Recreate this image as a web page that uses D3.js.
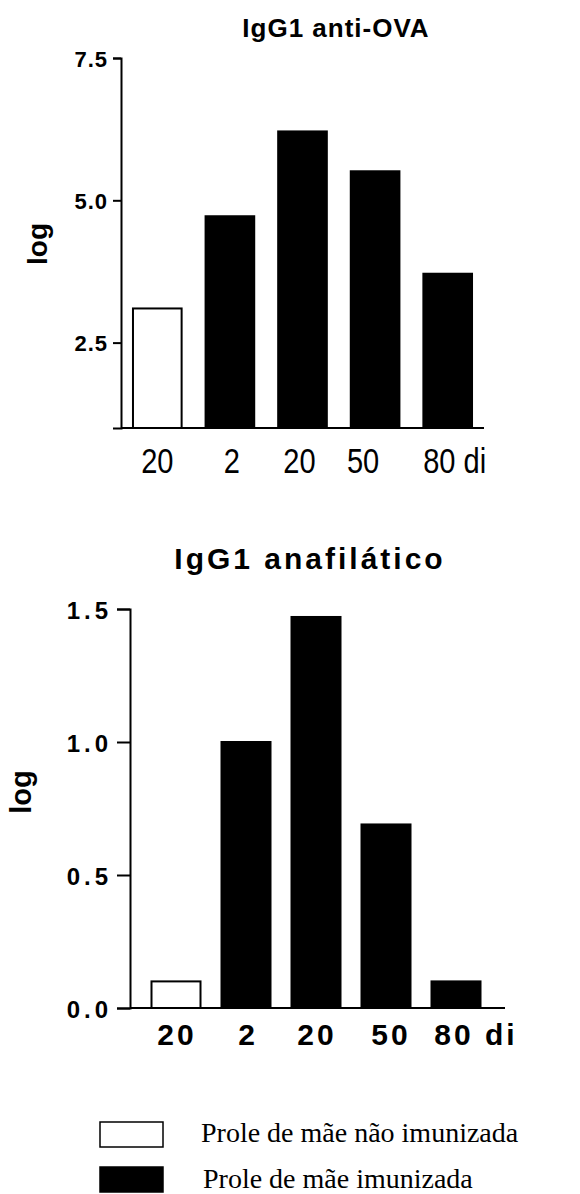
<!DOCTYPE html>
<meta charset="utf-8">
<script src="https://d3js.org/d3.v7.min.js"></script>
<style>
  body { margin: 0; background: #fff; }
</style>
<div id="chart"></div>
<script>
  // data
  var dayLabels = ["20", "2", "20", "50", "80 di"];
  var groups = ["nao", "imun", "imun", "imun", "imun"];
  var antiOvaValues = [3.10, 4.72, 6.21, 5.51, 3.71];
  var anafilaticoValues = [0.10, 1.00, 1.47, 0.69, 0.10];
  var antiOvaTicks = [2.5, 5.0, 7.5];
  var anafilaticoTicks = [0.0, 0.5, 1.0, 1.5];
  var legendLabels = ["Prole de mãe não imunizada", "Prole de mãe imunizada"];
  var legendGroups = ["nao", "imun"];

  var sans = "'Liberation Sans', Arial, sans-serif";
  var serif = "'Liberation Serif', 'Times New Roman', serif";

  var svg = d3.select("#chart")
    .append("svg")
    .attr("width", 580)
    .attr("height", 1194);

  function fillFor(g) { return g === "nao" ? "#fff" : "#000"; }

  // one bar panel
  function drawPanel(cfg) {
    var x = d3.scaleBand()
      .domain(d3.range(cfg.values.length))
      .range(cfg.bandRange)
      .paddingInner(cfg.padInner)
      .paddingOuter(cfg.padOuter);

    var y = d3.scaleLinear()
      .domain(cfg.domain)
      .range([cfg.bottom, cfg.top]);

    var g = svg.append("g");

    // title
    g.append("text")
      .attr("x", cfg.titleX)
      .attr("y", cfg.titleY)
      .attr("text-anchor", "middle")
      .attr("font-family", sans)
      .attr("font-weight", "bold")
      .attr("font-size", cfg.titleSize)
      .attr("letter-spacing", cfg.titleSpacing)
      .text(cfg.title);

    // bars
    g.selectAll("rect.bar")
      .data(cfg.values)
      .enter()
      .append("rect")
      .attr("class", "bar")
      .attr("x", function (d, i) { return x(i); })
      .attr("y", function (d) { return y(d); })
      .attr("width", x.bandwidth())
      .attr("height", function (d) { return y(cfg.domain[0]) - y(d); })
      .attr("fill", function (d, i) { return fillFor(groups[i]); })
      .attr("stroke", "#000")
      .attr("stroke-width", 2);

    // y axis
    var yAxis = g.append("g")
      .attr("transform", "translate(" + cfg.axisLeft + ",0)")
      .call(d3.axisLeft(y)
        .tickValues(cfg.ticks)
        .tickSizeOuter(0)
        .tickSize(cfg.tickSize)
        .tickPadding(cfg.tickPadding)
        .tickFormat(d3.format(".1f")));
    yAxis.attr("font-family", sans).attr("font-size", cfg.tickFont);
    yAxis.selectAll("path, line").attr("stroke", "#000").attr("stroke-width", 2);
    yAxis.selectAll("text")
      .attr("font-weight", "bold")
      .attr("letter-spacing", cfg.tickSpacing)
      .attr("dy", "0.38em");

    // x baseline
    g.append("line")
      .attr("x1", cfg.axisLeft)
      .attr("x2", cfg.axisRight)
      .attr("y1", y(cfg.domain[0]))
      .attr("y2", y(cfg.domain[0]))
      .attr("stroke", "#000")
      .attr("stroke-width", 2);

    // x labels
    g.selectAll("text.xlab")
      .data(dayLabels)
      .enter()
      .append("text")
      .attr("class", "xlab")
      .attr("text-anchor", "middle")
      .attr("font-family", sans)
      .attr("font-weight", cfg.xBold ? "bold" : "normal")
      .attr("font-size", cfg.xFont)
      .attr("letter-spacing", cfg.xSpacing)
      .attr("transform", function (d, i) {
        var cx = x(i) + x.bandwidth() / 2 + cfg.xOffsets[i];
        return "translate(" + cx + "," + cfg.xLabelY + ") scale(" + cfg.xScale + ",1)";
      })
      .text(function (d) { return d; });

    // y label
    g.append("text")
      .attr("transform", "translate(" + cfg.logX + "," + cfg.logY + ") rotate(-90)")
      .attr("text-anchor", "middle")
      .attr("font-family", sans)
      .attr("font-weight", "bold")
      .attr("font-size", cfg.logSize)
      .text("log");
  }

  drawPanel({
    title: "IgG1 anti-OVA", titleX: 336, titleY: 37, titleSize: 26, titleSpacing: 1,
    values: antiOvaValues, domain: [1, 7.5], ticks: antiOvaTicks,
    top: 58, bottom: 428,
    bandRange: [121, 484], padInner: 0.33, padOuter: 0.165,
    axisLeft: 121, axisRight: 484,
    tickSize: 8, tickPadding: 5, tickFont: 22, tickSpacing: 1,
    xFont: 35, xBold: false, xSpacing: 0, xScale: 0.83, xLabelY: 473,
    xOffsets: [0, 2, -3, -12, 7],
    logX: 47, logY: 244, logSize: 28
  });

  drawPanel({
    title: "IgG1 anafilático", titleX: 310, titleY: 569, titleSize: 30, titleSpacing: 3,
    values: anafilaticoValues, domain: [0, 1.5], ticks: anafilaticoTicks,
    top: 609, bottom: 1008,
    bandRange: [141, 491], padInner: 0.3, padOuter: 0.15,
    axisLeft: 130, axisRight: 505,
    tickSize: 13, tickPadding: 5, tickFont: 24, tickSpacing: 4,
    xFont: 30, xBold: true, xSpacing: 3, xScale: 1, xLabelY: 1045,
    xOffsets: [1, 2, 1, 5, 20],
    logX: 31, logY: 792, logSize: 29
  });

  // legend
  var legend = svg.append("g");
  var legendY = d3.scalePoint().domain(d3.range(legendLabels.length)).range([1122, 1167]);
  legend.selectAll("rect")
    .data(legendGroups)
    .enter()
    .append("rect")
    .attr("x", 100)
    .attr("y", function (d, i) { return legendY(i); })
    .attr("width", 63)
    .attr("height", 25)
    .attr("fill", function (d) { return fillFor(d); })
    .attr("stroke", "#000")
    .attr("stroke-width", 1.5);
  legend.selectAll("text")
    .data(legendLabels)
    .enter()
    .append("text")
    .attr("x", function (d, i) { return 201 + i * 2; })
    .attr("y", function (d, i) { return legendY(i) + 20 + i * 1; })
    .attr("font-family", serif)
    .attr("font-size", 28)
    .text(function (d) { return d; });
</script>
